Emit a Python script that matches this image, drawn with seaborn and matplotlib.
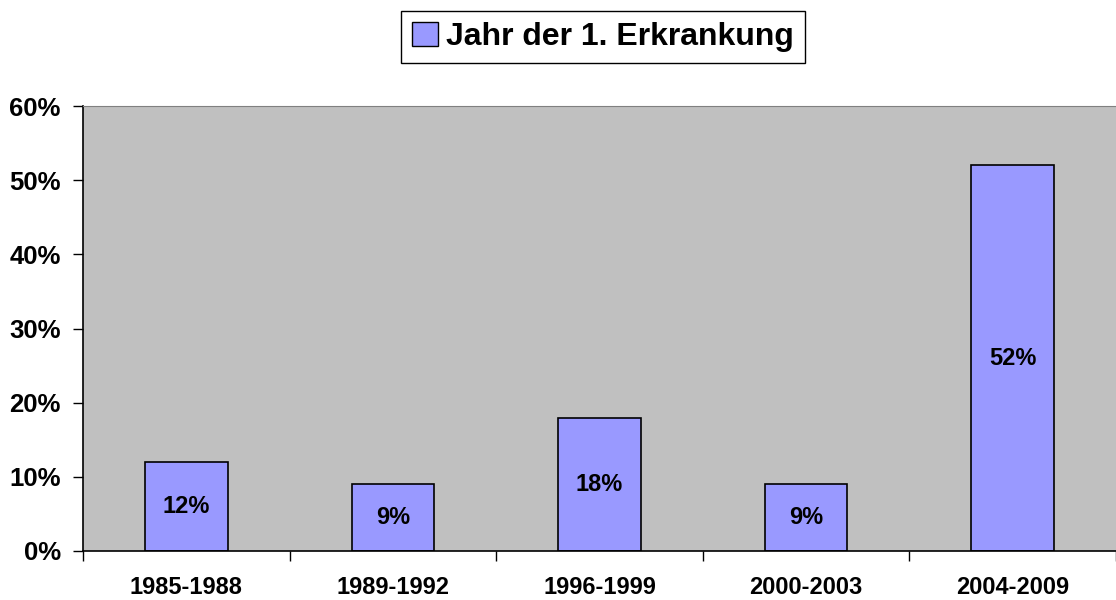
import matplotlib
matplotlib.use("Agg")
import matplotlib.pyplot as plt
import matplotlib.patches as mpatches
from matplotlib.ticker import FixedLocator
import seaborn as sns
import pandas as pd

# daten
zeitraum = ["1985-1988", "1989-1992", "1996-1999", "2000-2003", "2004-2009"]
anteil = [12, 9, 18, 9, 52]
legend_label = "Jahr der 1. Erkrankung"
bar_color = "#9999ff"

df = pd.DataFrame({"zeitraum": zeitraum, "anteil": anteil})

sns.set_style("white")
plt.rcParams["font.family"] = ["Liberation Sans", "DejaVu Sans"]
plt.rcParams["font.weight"] = "bold"
plt.rcParams["text.color"] = "black"
plt.rcParams["xtick.color"] = "black"
plt.rcParams["ytick.color"] = "black"

fig = plt.figure(figsize=(11.16, 6), dpi=100)
ax = fig.add_axes([83 / 1116, 49 / 600, 1 - 83 / 1116, 445 / 600])
ax.set_facecolor("#c0c0c0")

sns.barplot(data=df, x="zeitraum", y="anteil", color=bar_color, width=0.4,
            edgecolor="black", linewidth=1.2, saturation=1, ax=ax)

# prozent werte in der mitte der balken
for i, v in enumerate(anteil):
    ax.text(i, v / 2, f"{v}%", ha="center", va="center", fontsize=17,
            fontweight="bold", color="black")

ax.set_xlim(-0.5, len(zeitraum) - 0.5)
ax.set_ylim(0, 60)
ax.set_yticks(range(0, 61, 10))
ax.set_yticklabels([f"{t}%" for t in range(0, 61, 10)], fontsize=18.5, fontweight="bold")
ax.tick_params(axis="y", direction="out", length=7, width=1, color="black", pad=9,
               left=True, labelcolor="black")

ax.set_xticks(range(len(zeitraum)))
ax.set_xticklabels(zeitraum, fontsize=17, fontweight="bold")
ax.xaxis.set_minor_locator(FixedLocator([i - 0.5 for i in range(len(zeitraum) + 1)]))
ax.tick_params(axis="x", which="major", length=0, pad=18, labelcolor="black")
ax.tick_params(axis="x", which="minor", direction="out", length=7, width=1, color="black", bottom=True)
ax.set_xlabel("")
ax.set_ylabel("")

for s in ["left", "bottom"]:
    ax.spines[s].set_color("black")
    ax.spines[s].set_linewidth(1.2)
ax.spines["top"].set_color("#808080")
ax.spines["right"].set_visible(False)

handle = mpatches.Patch(facecolor=bar_color, edgecolor="black", linewidth=1, label=legend_label)
leg = fig.legend(handles=[handle], loc="center", bbox_to_anchor=(603 / 1116, 1 - 37 / 600),
                 fancybox=False, shadow=False, framealpha=1, edgecolor="black",
                 prop={"size": 23, "weight": "bold"}, handlelength=0.8, handleheight=0.8,
                 handletextpad=0.25, borderpad=0.35)
leg.get_frame().set_linewidth(1)
for t in leg.get_texts():
    t.set_color("black")

fig.savefig("out.png", dpi=100)
